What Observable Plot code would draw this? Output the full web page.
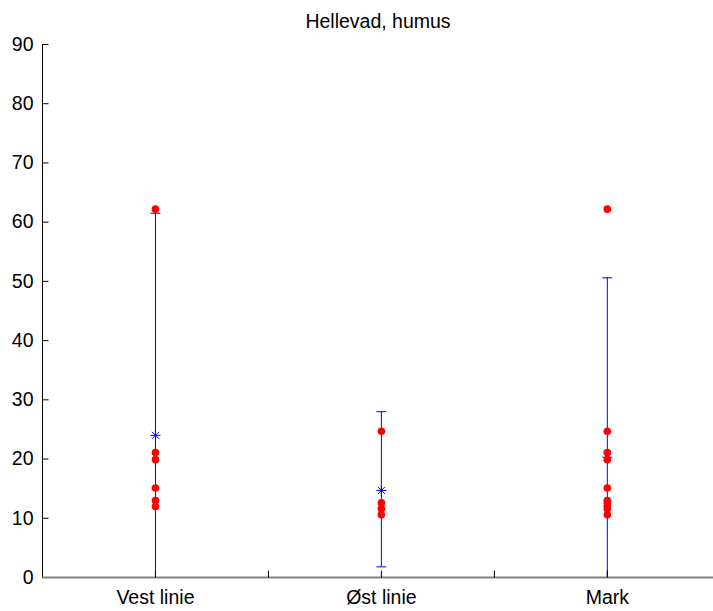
<!DOCTYPE html>
<html><head><meta charset="utf-8">
<script src="https://cdn.jsdelivr.net/npm/d3@7"></script>
<script src="https://cdn.jsdelivr.net/npm/@observablehq/plot@0.6"></script>
<style>body{margin:0;background:#fff;}</style>
</head><body><div id="chart"></div>
<script>
const title = "Hellevad, humus";
const categories = ["Vest linie", "Øst linie", "Mark"];
const vestValues = [62.2, 21.1, 19.9, 15.1, 13.0, 12.0];
const ostValues = [24.7, 12.6, 11.6, 10.6];
const markValues = [62.2, 24.7, 21.1, 19.9, 15.1, 13.0, 12.6, 12.0, 11.6, 10.6];
const means = [24.0, 14.7, 20.3];
const upper = [61.5, 28.0, 50.6];
const lower = [-13.5, 1.8, -10.1];
const yTicks = [0, 10, 20, 30, 40, 50, 60, 70, 80, 90];
const xTicks = [1, 1.5, 2, 2.5, 3];

const groups = [vestValues, ostValues, markValues];
const points = groups.flatMap((vals, i) => vals.map(v => ({pos: i + 1, value: v})));
const bars = categories.map((c, i) => ({pos: i + 1, mean: means[i], lo: lower[i], hi: upper[i]}));
const caps = bars.flatMap(b => [{pos: b.pos, y: b.hi}, {pos: b.pos, y: b.lo}]).filter(c => c.y >= 0);

const capSym = {draw(ctx) { ctx.moveTo(-5, 0); ctx.lineTo(5, 0); }};
const yTickSym = {draw(ctx) { ctx.moveTo(0, 0); ctx.lineTo(6, 0); }};
const xTickSym = {draw(ctx) { ctx.moveTo(0, 0); ctx.lineTo(0, -7); }};
const plusSym = {draw(ctx) { ctx.moveTo(-5, 0); ctx.lineTo(5, 0); ctx.moveTo(0, -5); ctx.lineTo(0, 5); }};
const timesSym = {draw(ctx) { ctx.moveTo(-3.5, -3.5); ctx.lineTo(3.5, 3.5); ctx.moveTo(-3.5, 3.5); ctx.lineTo(3.5, -3.5); }};

const font = "'Liberation Sans', Arial, Helvetica, sans-serif";
const fs = 19.5;
const plot = Plot.plot({
  width: 713,
  height: 611,
  marginLeft: 42,
  marginRight: 0,
  marginTop: 44,
  marginBottom: 34,
  style: {fontFamily: font, fontSize: fs + "px", background: "#fff", color: "#000"},
  x: {domain: [0.5, 3.47], axis: null},
  y: {domain: [0, 90], axis: null},
  marks: [
    Plot.ruleX(bars, {x: "pos", y1: "lo", y2: "hi", stroke: "#0000ff", strokeWidth: 1, clip: true}),
    Plot.dot(caps, {x: "pos", y: "y", symbol: capSym, fill: "none", stroke: "#0000ff", strokeWidth: 1}),
    Plot.dot(bars, {x: "pos", y: "mean", symbol: plusSym, fill: "none", stroke: "#0000ff", strokeWidth: 1}),
    Plot.dot(bars, {x: "pos", y: "mean", symbol: timesSym, fill: "none", stroke: "#0000ff", strokeWidth: 1}),
    Plot.dot(points, {x: "pos", y: "value", r: 3.8, fill: "#ff0000", stroke: "none"}),
    Plot.ruleX([0.5], {stroke: "#000", strokeWidth: 1}),
    Plot.dot(yTicks, {x: 0.5, y: d => d, symbol: yTickSym, fill: "none", stroke: "#000", strokeWidth: 1}),
    Plot.text(yTicks, {x: 0.5, y: d => d, text: d => String(d), textAnchor: "end", dx: -9, fontSize: fs}),
    Plot.ruleY([0], {stroke: "#808080", strokeWidth: 2}),
    Plot.dot(xTicks, {x: d => d, y: 0, symbol: xTickSym, fill: "none", stroke: "#000", strokeWidth: 1}),
    Plot.text(categories, {x: (d, i) => i + 1, y: 0, text: d => d, dy: 20, fontSize: fs}),
    Plot.text([title], {frameAnchor: "top", text: d => d, dy: -17, fontSize: fs, lineAnchor: "bottom"})
  ]
});
document.getElementById("chart").appendChild(plot);
</script>
</body></html>
